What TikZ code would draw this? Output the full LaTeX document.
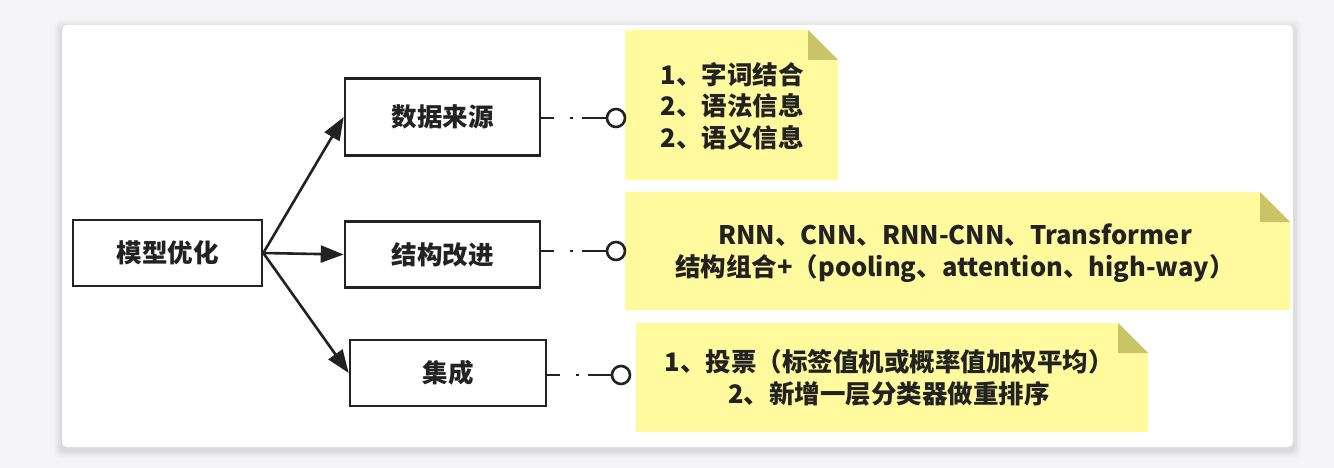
\documentclass[tikz,border=0pt]{standalone}
\usepackage{fontspec}
\setmainfont{Noto Sans CJK SC}
\usetikzlibrary{arrows.meta}
\definecolor{bgc}{RGB}{245,245,247}
\definecolor{notey}{RGB}{255,250,158}
\definecolor{foldc}{RGB}{201,197,102}
\definecolor{ink}{RGB}{34,34,34}
\begin{document}
\begin{tikzpicture}[x=1pt,y=-1pt,
  box/.style={draw=ink,line width=2.6pt,fill=white,minimum height=66pt,inner sep=0pt,font=\fontsize{25.5}{30}\selectfont\bfseries,text=ink},
  arr/.style={draw=ink,line width=2.6pt,-{Triangle[length=23pt,width=17pt]}},
  link/.style={draw=ink,line width=2.6pt,dash pattern=on 13pt off 16pt on 3pt off 9pt on 40pt},
  endc/.style={circle,draw=ink,line width=2.6pt,fill=white,minimum size=18pt,inner sep=0pt},
  notetext/.style={font=\fontsize{25.5}{31.5}\selectfont\bfseries,text=ink,inner sep=0pt},
  notefill/.style={fill=notey},
  foldfill/.style={fill=foldc}]
\useasboundingbox (0,0) rectangle (1334,468);
\fill[bgc] (0,0) rectangle (1334,468);
% card shadow
\foreach \o/\a in {8/0.02,6/0.025,4/0.03,2/0.035}{
  \fill[black,opacity=\a,rounded corners=6pt] (62-\o,25-\o+3) rectangle (1293+\o,447+\o+3);
}
\fill[white,rounded corners=5pt] (62,25) rectangle (1293,447);

% boxes
\node[box,minimum width=189pt] (root) at (167.5,253) {模型优化};
\node[box,minimum width=195pt,minimum height=77pt] (src) at (442.5,117) {数据来源};
\node[box,minimum width=195pt] (arch) at (442.5,254.5) {结构改进};
\node[box,minimum width=196pt] (ens) at (448,373) {集成};

% arrows
\draw[arr] (root.east) -- (src.west);
\draw[arr] (root.east) -- (arch.west);
\draw[arr] (root.east) -- (ens.west);

% notes
\fill[notefill] (625,30) -- (808,30) -- (838,60) -- (838,180) -- (625,180) -- cycle;
\fill[foldfill] (808,30) -- (838,60) -- (808,60) -- cycle;
\fill[notefill] (625,192) -- (1260,192) -- (1290,222) -- (1290,310) -- (625,310) -- cycle;
\fill[foldfill] (1260,192) -- (1290,222) -- (1260,222) -- cycle;
\fill[notefill] (636,323) -- (1118,323) -- (1148,353) -- (1148,432) -- (636,432) -- cycle;
\fill[foldfill] (1118,323) -- (1148,353) -- (1118,353) -- cycle;

\node[notetext,align=left] (n1) at (732,106) {1、字词结合\\2、语法信息\\2、语义信息};
\node[notetext,align=center] (n2) at (955,253) {RNN、CNN、RNN-CNN、Transformer\\结构组合+（pooling、attention、high-way）};
\node[notetext,align=center] (n3) at (889,378) {1、投票（标签值机或概率值加权平均）\\2、新增一层分类器做重排序};

% connectors with end circles
\node[endc] (c1) at (616,118) {};
\node[endc] (c2) at (616,251) {};
\node[endc] (c3) at (621,375) {};
\draw[link] (src.east |- c1) -- (c1.west);
\draw[link] (arch.east |- c2) -- (c2.west);
\draw[link] (ens.east |- c3) -- (c3.west);
\end{tikzpicture}
\end{document}
